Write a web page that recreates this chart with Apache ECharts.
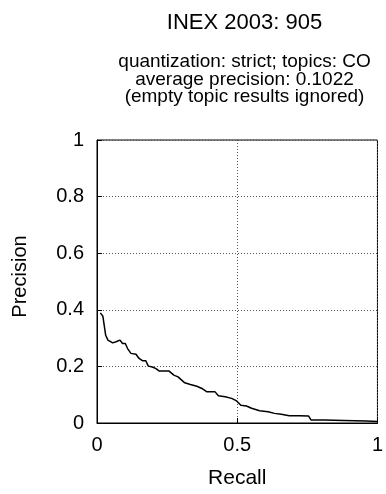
<!DOCTYPE html>
<html><head><meta charset="utf-8">
<script src="https://cdn.jsdelivr.net/npm/echarts@6/dist/echarts.min.js"></script>
<style>html,body{margin:0;padding:0;background:#fff}#c{width:386px;height:494px}</style>
</head><body><div id="c"></div>
<script>
const recall = [0.012, 0.021, 0.031, 0.039, 0.056, 0.068, 0.082, 0.091, 0.101, 0.109, 0.121, 0.139, 0.150, 0.162, 0.174, 0.183, 0.197, 0.209, 0.221, 0.239, 0.256, 0.274, 0.289, 0.313, 0.333, 0.356, 0.374, 0.392, 0.421, 0.433, 0.457, 0.480, 0.498, 0.513, 0.533, 0.551, 0.580, 0.610, 0.633, 0.657, 0.686, 0.721, 0.754, 0.763, 0.81, 0.88, 0.96, 1.0];
const precision = [0.389, 0.377, 0.31, 0.293, 0.283, 0.287, 0.293, 0.281, 0.281, 0.263, 0.246, 0.243, 0.228, 0.220, 0.220, 0.201, 0.198, 0.193, 0.184, 0.184, 0.184, 0.169, 0.163, 0.142, 0.136, 0.130, 0.122, 0.110, 0.110, 0.096, 0.093, 0.087, 0.078, 0.063, 0.060, 0.052, 0.043, 0.040, 0.034, 0.031, 0.026, 0.026, 0.025, 0.011, 0.011, 0.009, 0.007, 0.005];
const titleText = 'INEX 2003: 905';
const subtitleLines = ['quantization: strict; topics: CO', 'average precision: 0.1022', '(empty topic results ignored)'];
const xName = 'Recall';
const yName = 'Precision';

const FONT = '"Liberation Sans", Arial, sans-serif';
const chart = echarts.init(document.getElementById('c'), null, {renderer: 'canvas'});
const pts = recall.map((r, i) => [r, precision[i]]);
chart.setOption({
  animation: false,
  backgroundColor: '#fff',
  title: [
    {text: titleText, left: 239.5, top: 7, textAlign: 'center',
     textStyle: {fontFamily: FONT, fontSize: 22, fontWeight: 'normal', color: '#000'}},
    {text: subtitleLines.join('\n'), left: 239.5, top: 48, textAlign: 'center',
     textStyle: {fontFamily: FONT, fontSize: 19, fontWeight: 'normal', color: '#000', lineHeight: 17.6}}
  ],
  grid: {left: 97, right: 4, top: 140, bottom: 71, show: true, borderColor: '#000', borderWidth: 1, backgroundColor: 'transparent'},
  xAxis: {
    type: 'value', min: 0, max: 1, interval: 0.5,
    name: xName, nameLocation: 'middle', nameGap: 45,
    nameTextStyle: {fontFamily: FONT, fontSize: 21, color: '#000'},
    axisLine: {show: true, lineStyle: {color: '#000'}},
    axisTick: {show: true, inside: true, length: 5, lineStyle: {color: '#000'}},
    axisLabel: {fontFamily: FONT, fontSize: 20, color: '#000', margin: 12},
    splitLine: {show: true, lineStyle: {type: [1, 2], color: '#555'}}
  },
  yAxis: {
    type: 'value', min: 0, max: 1, interval: 0.2,
    name: yName, nameLocation: 'middle', nameGap: 67, nameRotate: 90,
    nameTextStyle: {fontFamily: FONT, fontSize: 20, color: '#000', padding: [0, 0, 0, 10]},
    axisLine: {show: true, lineStyle: {color: '#000'}},
    axisTick: {show: true, inside: true, length: 5, lineStyle: {color: '#000'}},
    axisLabel: {fontFamily: FONT, fontSize: 20, color: '#000', margin: 13,
      formatter: v => String(+v.toFixed(1))},
    splitLine: {show: true, lineStyle: {type: [1, 2], color: '#555'}}
  },
  series: [{
    type: 'line', data: pts, showSymbol: false, symbol: 'none',
    lineStyle: {color: '#000', width: 1.5}
  }]
});
</script></body></html>
